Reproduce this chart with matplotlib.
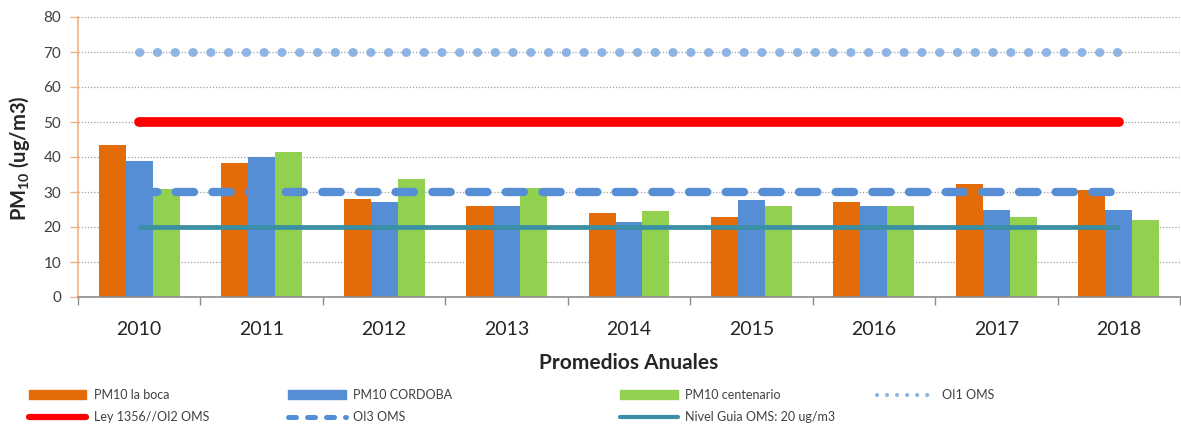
import matplotlib
matplotlib.use("Agg")
import matplotlib.pyplot as plt
import numpy as np
from matplotlib.lines import Line2D
from matplotlib.patches import Patch

plt.rcParams['font.family'] = ['Lato', 'DejaVu Sans']
plt.rcParams['mathtext.fontset'] = 'custom'
plt.rcParams['mathtext.rm'] = 'Lato'
plt.rcParams['mathtext.bf'] = 'Lato:bold'

years = ['2010', '2011', '2012', '2013', '2014', '2015', '2016', '2017', '2018']
pm10_la_boca = [43.5, 38.4, 28.1, 26.0, 24.1, 23.0, 27.1, 32.3, 30.6]
pm10_cordoba = [39.0, 40.0, 27.1, 26.0, 21.5, 27.6, 26.0, 25.0, 25.0]
pm10_centenario = [31.0, 41.4, 33.8, 31.1, 24.6, 26.0, 26.0, 23.0, 22.0]
oi1_oms = [70] * 9
ley_oi2_oms = [50] * 9
oi3_oms = [30] * 9
nivel_guia_oms = [20] * 9

labels = ['PM10 la boca', 'PM10 CORDOBA', 'PM10 centenario', 'OI1 OMS',
          'Ley 1356//OI2 OMS', 'OI3 OMS', 'Nivel Guia OMS: 20 ug/m3']

c_orange = '#E36C09'
c_blue = '#558ED5'
c_green = '#92D050'
c_dot = '#8DB4E2'
c_red = '#FF0000'
c_teal = '#3A8FA4'

fig = plt.figure(figsize=(11.81, 4.28), dpi=100)
ax = fig.add_axes([78 / 1181, 1 - 297 / 428, 1102 / 1181, 280 / 428])

x = np.arange(len(years))
w = 0.22
ax.bar(x - w, pm10_la_boca, w, color=c_orange, zorder=2)
ax.bar(x, pm10_cordoba, w, color=c_blue, zorder=2)
ax.bar(x + w, pm10_centenario, w, color=c_green, zorder=2)

ax.plot(x, oi1_oms, color=c_dot, lw=6.4, dashes=(0.05, 1.95),
        dash_capstyle='round', zorder=3)
ax.plot(x, ley_oi2_oms, color=c_red, lw=7.0, solid_capstyle='round', zorder=3)
ax.plot(x, oi3_oms, color=c_blue, lw=6.0, dashes=(2.2, 2.2),
        dash_capstyle='round', zorder=3)
ax.plot(x, nivel_guia_oms, color=c_teal, lw=3.4, solid_capstyle='butt', zorder=3)

ax.set_xlim(-0.5, len(years) - 0.5)
ax.set_ylim(0, 80)
ax.set_yticks(np.arange(0, 81, 10))
ax.yaxis.grid(True, color='#A0A0A0', linestyle=(0, (1, 1.5)), linewidth=0.9, zorder=0)
ax.set_axisbelow(True)

ax.set_xticks(x)
ax.set_xticklabels(years, fontsize=14, color='#262626')
ax.set_xticks(np.arange(-0.5, len(years), 1.0), minor=True)
ax.tick_params(axis='x', which='major', length=0, pad=17)
ax.tick_params(axis='x', which='minor', length=6, width=1, color='#8C8C8C', direction='out')
ax.tick_params(axis='y', length=6, width=1, color='#F4B183', labelsize=11,
               labelcolor='#404040', pad=6)

for s in ['top', 'right']:
    ax.spines[s].set_visible(False)
ax.spines['left'].set_color('#F4B183')
ax.spines['left'].set_linewidth(1.2)
ax.spines['bottom'].set_color('#8C8C8C')
ax.spines['bottom'].set_linewidth(1.2)

ax.set_xlabel('Promedios Anuales', fontsize=15, fontweight='bold', color='#262626', labelpad=11)
fig.text(20 / 1181, 1 - 158 / 428, r'PM$_{\mathbf{10}}$ (ug/m3)', rotation=90,
         fontsize=14.5, fontweight='bold', color='#262626', ha='center', va='center')

# Legend proxies (smaller line styles like the reference legend)
h_boca = Patch(color=c_orange)
h_cord = Patch(color=c_blue)
h_cent = Patch(color=c_green)
h_oi1 = Line2D([], [], color=c_dot, lw=3.0, dashes=(0.01, 2.4), dash_capstyle='round')
h_red = Line2D([], [], color=c_red, lw=4.5, solid_capstyle='round')
h_oi3 = Line2D([], [], color=c_blue, lw=3.6, dashes=(1.6, 2.2), dash_capstyle='round')
h_teal = Line2D([], [], color=c_teal, lw=3.0, solid_capstyle='round')

legend_cols = [
    ([h_boca, h_red], [labels[0], labels[4]], 29),
    ([h_cord, h_oi3], [labels[1], labels[5]], 288),
    ([h_cent, h_teal], [labels[2], labels[6]], 620),
    ([h_oi1], [labels[3]], 877),
]
for hs, ls, xpx in legend_cols:
    fig.legend(hs, ls, loc='upper left', bbox_to_anchor=(xpx / 1181, 1 - 389 / 428),
               frameon=False, fontsize=9, handlelength=4.6, handletextpad=0.6,
               borderpad=0, borderaxespad=0, labelspacing=0.8, labelcolor='#404040')

fig.savefig('out.png', dpi=100)
